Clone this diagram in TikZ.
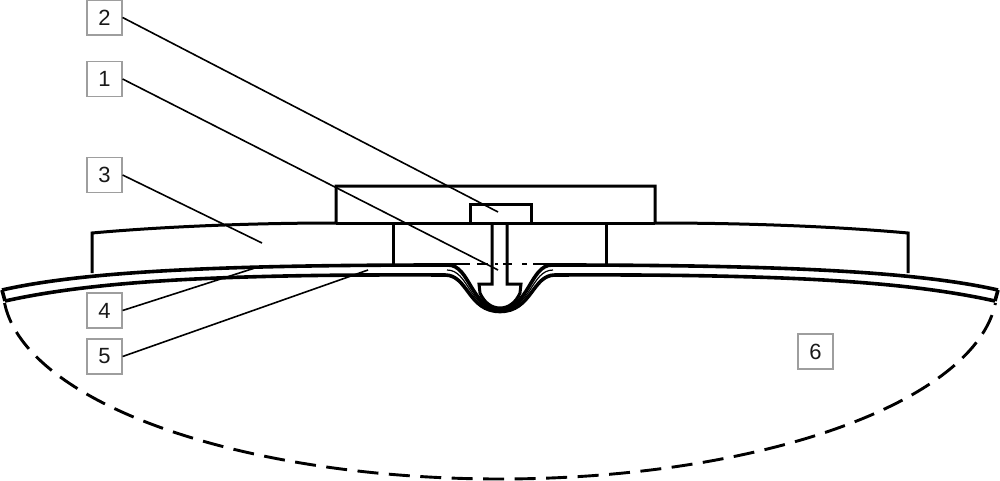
\documentclass[tikz,border=0pt]{standalone}
\usepackage{fontspec}
\setmainfont{Liberation Sans}
\tikzset{
  labelbox/.style={draw=black!38,line width=1.2pt,fill=white,minimum size=35pt,inner sep=0pt,font=\fontsize{22}{22}\selectfont,text=black!90},
  leader/.style={line width=1.6pt,black},
  body/.style={line width=3pt,black,line join=miter},
  skin/.style={line width=3.6pt,black},
  thinskin/.style={line width=1.2pt,black},
  axisline/.style={line width=2.6pt,black},
  cavity/.style={line width=2.9pt,black,dash pattern=on 21pt off 10.5pt}
}
\begin{document}
\begin{tikzpicture}[x=1pt,y=-1pt]
\useasboundingbox (0,0) rectangle (1000,481);
% cavity outline
\draw[cavity] plot[domain=175.5:4.5,samples=90,smooth] ({500+497*cos(\x)},{288+191*sin(\x)});
% base plate
\draw[body] (92,273) -- (92,233) .. controls (170,226) and (260,223) .. (336,223) -- (336,186) -- (655,186) -- (655,223) .. controls (740,223) and (830,226) .. (908,233) -- (908,273);
\draw[body] (336,223) -- (655,223);
\draw[body] (393,223) -- (393,265);
\draw[body] (606,223) -- (606,265);
% rivet
\draw[body] (470,223) -- (470,204) -- (531,204) -- (531,223);
\draw[body] (492,223) -- (492,284) -- (479,284) -- (480,293) .. controls (484,302) and (491,308) .. (500,308) .. controls (509,308) and (516,302) .. (520,293) -- (521,284) -- (507,284) -- (507,223);
% axis
\draw[axisline] (437,264) -- (470,264) (477,264) -- (488,264) (495,264) -- (498,264) (503,264) -- (512,264) (522,264) -- (527,264) (533,264) -- (567,264);
% skins
\draw[skin] (2,290) -- (5,301);
\draw[skin] (998,290) -- (995,301);
\draw[skin] (2,290) .. controls (90,270) and (240,265) .. (448,265) .. controls (470,265) and (471,309) .. (500,309) .. controls (529,309) and (530,265) .. (552,265) .. controls (760,265) and (910,270) .. (998,290);
\draw[thinskin] (447,270) .. controls (469,270) and (469,310) .. (500,310) .. controls (531,310) and (531,270) .. (553,270);
\draw[skin] (5,301) .. controls (95,281) and (220,274) .. (445,275) .. controls (468,275) and (468,311.5) .. (500,311.5) .. controls (532,311.5) and (532,275) .. (555,275) .. controls (780,274) and (905,281) .. (995,301);
% labels
\node[labelbox] (n2) at (104.5,17.5) {2};
\node[labelbox] (n1) at (104.5,79) {1};
\node[labelbox] (n3) at (104.5,175) {3};
\node[labelbox] (n4) at (104.5,310.5) {4};
\node[labelbox] (n5) at (104.5,356.5) {5};
\node[labelbox] (n6) at (815.5,351.5) {6};
\coordinate (e2) at (498,212);
\coordinate (e1) at (498,270);
\coordinate (e3) at (262,243);
\coordinate (e4) at (258,267);
\coordinate (e5) at (368,270);
\draw[leader] (n2.east) -- (e2);
\draw[leader] (n1.east) -- (e1);
\draw[leader] (n3.east) -- (e3);
\draw[leader] (n4.east) -- (e4);
\draw[leader] (n5.east) -- (e5);
\end{tikzpicture}
\end{document}
